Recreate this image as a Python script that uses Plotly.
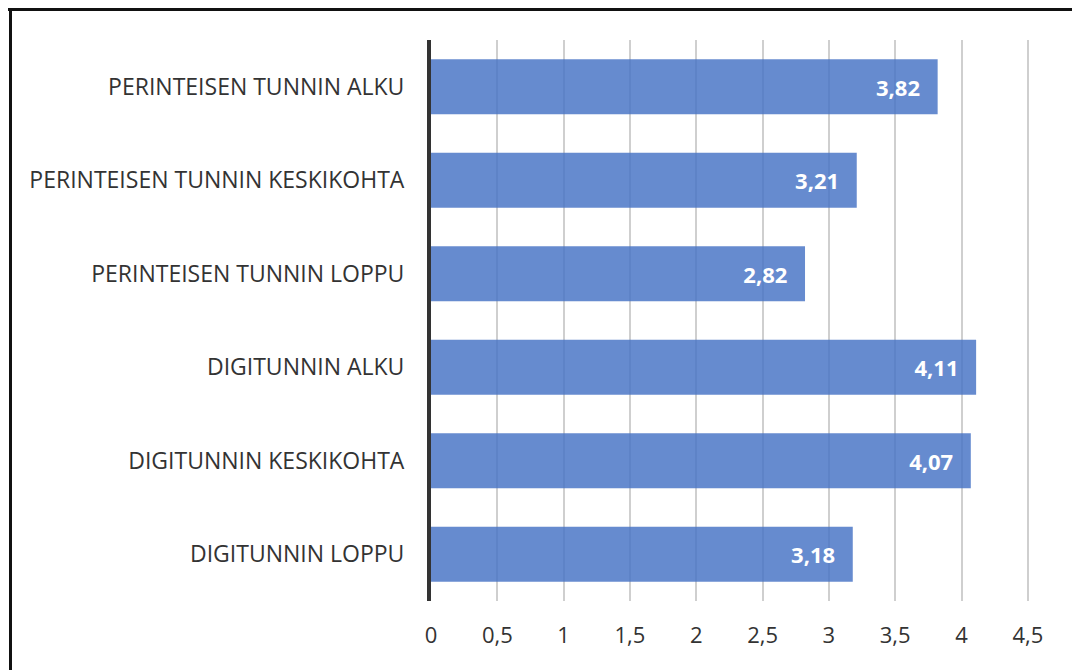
import plotly.graph_objects as go

categories = [
    "PERINTEISEN TUNNIN ALKU",
    "PERINTEISEN TUNNIN KESKIKOHTA",
    "PERINTEISEN TUNNIN LOPPU",
    "DIGITUNNIN ALKU",
    "DIGITUNNIN KESKIKOHTA",
    "DIGITUNNIN LOPPU",
]
values = [3.82, 3.21, 2.82, 4.11, 4.07, 3.18]
tick_values = [0, 0.5, 1, 1.5, 2, 2.5, 3, 3.5, 4, 4.5]
tick_labels = ["0", "0,5", "1", "1,5", "2", "2,5", "3", "3,5", "4", "4,5"]

W, H = 1072, 670
L, R, T, B = 431, 11, 40, 69
pw, ph = W - L - R, H - T - B

def px_x(x):
    return (x - L) / pw

def px_y(y):
    return (H - B - y) / ph

font_family = "'Open Sans', Lato, sans-serif"

fig = go.Figure(
    go.Bar(
        x=values,
        y=categories,
        orientation="h",
        width=0.59,
        marker=dict(color="rgba(68,114,196,0.82)", line=dict(width=0)),
        text=[f"{v:.2f}".replace(".", ",") + "\u2002\u2009" for v in values],
        textposition="inside",
        insidetextanchor="end",
        textfont=dict(family=font_family, size=22, color="white", weight="bold"),
        cliponaxis=False,
    )
)

fig.update_layout(
    width=W,
    height=H,
    margin=dict(l=L, r=R, t=T, b=B),
    paper_bgcolor="white",
    plot_bgcolor="white",
    showlegend=False,
    bargap=0.41,
    shapes=[
        # outer frame: top and left edges
        dict(type="line", xref="paper", yref="paper",
             x0=px_x(8), x1=px_x(1080), y0=px_y(9.5), y1=px_y(9.5),
             line=dict(color="#111111", width=3)),
        dict(type="line", xref="paper", yref="paper",
             x0=px_x(10.5), x1=px_x(10.5), y0=px_y(8), y1=px_y(680),
             line=dict(color="#111111", width=3)),
    ],
)

fig.update_xaxes(
    range=[0, 4.75],
    tickvals=tick_values,
    ticktext=tick_labels,
    showgrid=True,
    gridcolor="#cfcfcf",
    gridwidth=1.5,
    zeroline=False,
    showline=False,
    ticks="",
    ticklabelstandoff=19,
    tickfont=dict(family=font_family, size=22, color="#333333"),
)

fig.update_yaxes(
    categoryorder="array",
    categoryarray=categories[::-1],
    showgrid=False,
    showline=True,
    linecolor="#333333",
    linewidth=4,
    ticks="",
    ticklabelstandoff=18,
    tickfont=dict(family=font_family, size=23, color="#333333"),
)

fig.write_html("out.html")
